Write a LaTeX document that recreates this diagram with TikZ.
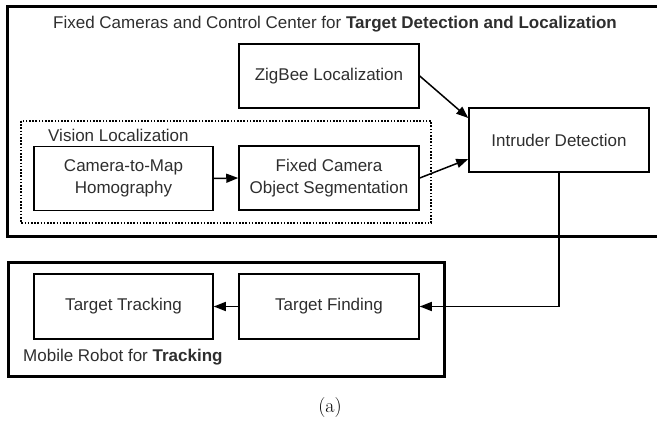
\documentclass[tikz,border=0pt]{standalone}
\usepackage{fontspec}
\setsansfont{Liberation Sans}
\usetikzlibrary{arrows.meta,calc}
\definecolor{txt}{HTML}{2E2E2E}
\tikzset{
  blk/.style={draw=black, line width=1.5pt, rectangle, minimum width=180pt, minimum height=64pt,
    align=center, font=\sffamily\fontsize{17}{22}\selectfont, text=txt, inner sep=0pt},
  frame/.style={draw=black, line width=3pt},
  dotframe/.style={draw=black, line width=1.4pt, dash pattern=on 1.6pt off 1.6pt},
  lbl/.style={font=\sffamily\fontsize{17}{22}\selectfont, text=txt, inner sep=0pt},
  flow/.style={draw=black, line width=1.5pt, -{Triangle[length=12pt,width=9pt]}},
}
\begin{document}
\begin{tikzpicture}[x=1pt,y=-1pt]
\useasboundingbox (0,0) rectangle (657,423);

% group frames
\draw[frame] (7,6) rectangle (690,236);
\draw[dotframe] (21,121) rectangle (431,223);
\draw[frame] (8,262) rectangle (444,376);

% frame labels
\node[lbl] (title) at (335,24) {Fixed Cameras and Control Center for \textbf{Target Detection and Localization}};
\node[lbl, anchor=west] (vis) at (48,135) {Vision Localization};
\node[lbl, anchor=west] (mob) at (23,357) {Mobile Robot for \textbf{Tracking}};

% blocks
\node[blk] (zig) at (329,76) {ZigBee Localization};
\node[blk] (intr) at (559,140) {Intruder Detection};
\node[blk, minimum width=179pt] (cam) at (123.5,178.5) {Camera-to-Map\\Homography};
\node[blk] (fix) at (329,178) {Fixed Camera\\Object Segmentation};
\node[blk, minimum width=179pt, minimum height=65pt] (trk) at (123.5,306.5) {Target Tracking};
\node[blk, minimum height=65pt] (fnd) at (329,306.5) {Target Finding};

% connectors
\draw[flow] (zig.east) -- ($(intr.west)+(0,-22)$);
\draw[flow] (fix.east) -- ($(intr.west)+(0,19)$);
\draw[flow] (cam.east) -- (fix.west);
\draw[flow] (intr.south) |- (fnd.east);
\draw[flow] (fnd.west) -- (trk.east);

% caption
\node[font=\fontsize{20}{24}\selectfont, inner sep=0pt] (cap) at (330,408) {(a)};
\end{tikzpicture}
\end{document}
